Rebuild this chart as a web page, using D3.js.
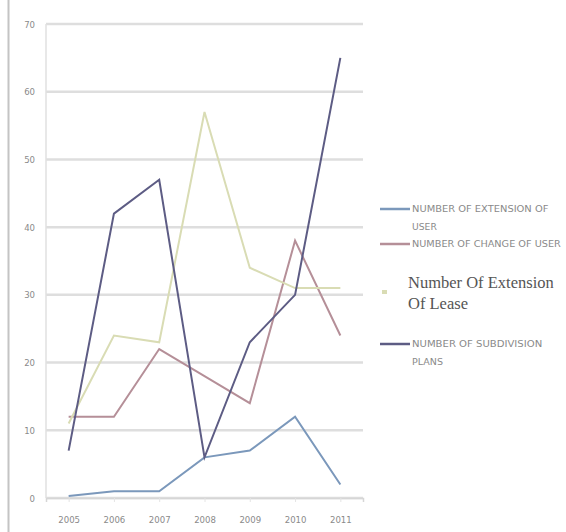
<!DOCTYPE html>
<html>
<head>
<meta charset="utf-8">
<script src="https://cdn.jsdelivr.net/npm/d3@7/dist/d3.min.js"></script>
<style>
  body { margin: 0; background: #fff; }
  svg { display: block; }
</style>
</head>
<body>
<div id="chart"></div>
<script>
// data
var years = ["2005", "2006", "2007", "2008", "2009", "2010", "2011"];
var extensionOfUse = [0.3, 1, 1, 6, 7, 12, 2];
var changeOfUse = [12, 12, 22, 18, 14, 38, 24];
var extensionOfLease = [11, 24, 23, 57, 34, 31, 31];
var subdivisionPlans = [7, 42, 47, 6, 23, 30, 65];
var yTicks = [0, 10, 20, 30, 40, 50, 60, 70];

var series = [
  {name: ["NUMBER OF EXTENSION OF", "USER"], values: extensionOfUse, color: "#7b98bb", kind: "line"},
  {name: ["NUMBER OF CHANGE OF USER"], values: changeOfUse, color: "#b58f98", kind: "line"},
  {name: ["Number Of Extension", "Of Lease"], values: extensionOfLease, color: "#d9dcb4", kind: "box"},
  {name: ["NUMBER OF SUBDIVISION", "PLANS"], values: subdivisionPlans, color: "#5d5c84", kind: "line"}
];

var W = 566, H = 532;
var margin = {top: 24, left: 46, right: 203, bottom: 34},
    width = W - margin.left - margin.right,
    height = H - margin.top - margin.bottom;

var svg = d3.select("#chart").append("svg")
    .attr("width", W)
    .attr("height", H);

// grey frame line on the left
svg.append("line")
  .attr("x1", 8.5).attr("x2", 8.5)
  .attr("y1", 0).attr("y2", H)
  .attr("stroke", "#c4c4c4")
  .attr("stroke-width", 2);

var g = svg.append("g")
  .attr("transform", "translate(" + margin.left + "," + margin.top + ")");

var x = d3.scalePoint()
  .domain(years)
  .range([0, width])
  .padding(0.5);

var y = d3.scaleLinear()
  .domain([0, 70])
  .range([height, 0]);

// gridlines
g.selectAll(".grid")
  .data(yTicks)
  .enter().append("line")
    .attr("class", "grid")
    .attr("x1", 0).attr("x2", width)
    .attr("y1", function(d) { return y(d); })
    .attr("y2", function(d) { return y(d); })
    .attr("stroke", "#dedede")
    .attr("stroke-width", 2.5);

// y axis line
g.append("line")
  .attr("x1", 0).attr("x2", 0)
  .attr("y1", 0).attr("y2", height)
  .attr("stroke", "#e0e0e0")
  .attr("stroke-width", 1.5);

// y axis labels
var yAxis = g.append("g")
  .call(d3.axisLeft(y).tickValues(yTicks).tickSize(0).tickPadding(11));
yAxis.select(".domain").remove();
yAxis.selectAll("text")
  .attr("fill", "#8a8a8a")
  .style("font-family", "DejaVu Sans Condensed, Liberation Sans Narrow, sans-serif")
  .style("font-size", "9.5px");

// x axis
var xAxis = g.append("g")
  .attr("transform", "translate(0," + height + ")")
  .call(d3.axisBottom(x).tickSize(4).tickPadding(14));
xAxis.select(".domain").attr("stroke", "#d6d6d6").attr("stroke-width", 1.5);
xAxis.selectAll(".tick line").attr("stroke", "#e4e4e4");
xAxis.selectAll("text")
  .attr("fill", "#8a8a8a")
  .style("font-family", "DejaVu Sans Condensed, Liberation Sans Narrow, sans-serif")
  .style("font-size", "9.5px");

// lines
var line = d3.line()
  .x(function(d, i) { return x(years[i]); })
  .y(function(d) { return y(d); });

g.selectAll(".series")
  .data(series)
  .enter().append("path")
    .attr("class", "series")
    .attr("fill", "none")
    .attr("stroke", function(d) { return d.color; })
    .attr("stroke-width", 2)
    .attr("stroke-linejoin", "miter")
    .attr("d", function(d) { return line(d.values); });

// legend
var legendY = [209, 244, 292, 344];
var legend = svg.selectAll(".legend")
  .data(series)
  .enter().append("g")
    .attr("class", "legend")
    .attr("transform", function(d, i) { return "translate(380," + legendY[i] + ")"; });

legend.each(function(d) {
  var el = d3.select(this);
  if (d.kind === "line") {
    el.append("line")
      .attr("x1", 0).attr("x2", 30)
      .attr("y1", 0).attr("y2", 0)
      .attr("stroke", d.color)
      .attr("stroke-width", 2.5);
    el.selectAll("text")
      .data(d.name)
      .enter().append("text")
        .attr("x", 32)
        .attr("y", function(t, j) { return 3 + j * 18; })
        .attr("fill", "#8a8a8a")
        .style("font-family", "DejaVu Sans Condensed, Liberation Sans Narrow, sans-serif")
        .style("font-size", "9px")
        .attr("textLength", function(t) { return t.length * 6.2; })
        .attr("lengthAdjust", "spacingAndGlyphs")
        .text(function(t) { return t; });
  } else {
    el.append("rect")
      .attr("x", 2).attr("y", -2)
      .attr("width", 5).attr("height", 4)
      .attr("fill", d.color);
    el.selectAll("text")
      .data(d.name)
      .enter().append("text")
        .attr("x", 28)
        .attr("y", function(t, j) { return -4 + j * 21; })
        .attr("fill", "#555")
        .style("font-family", "Liberation Serif, serif")
        .style("font-size", "16.5px")
        .text(function(t) { return t; });
  }
});
</script>
</body>
</html>
